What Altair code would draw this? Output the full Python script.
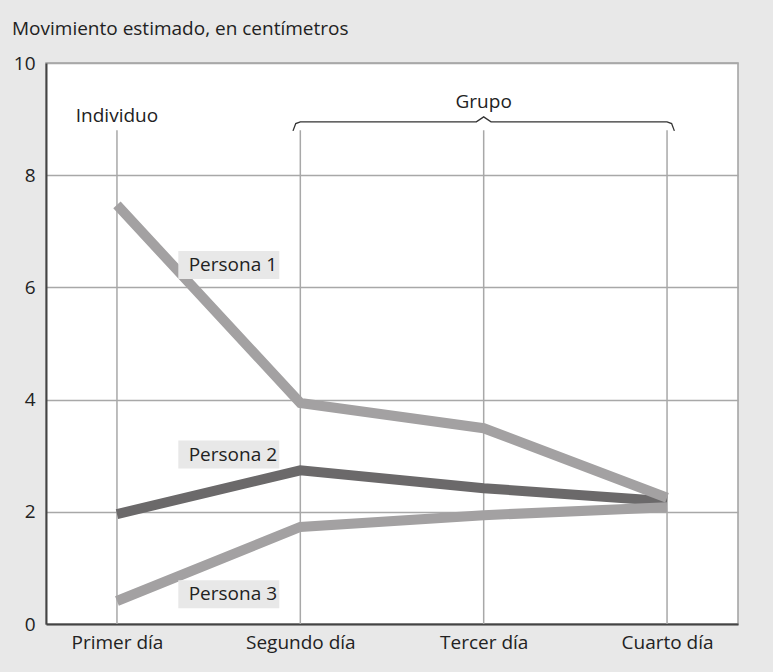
import json
import altair as alt
import pandas as pd

days = ["Primer día", "Segundo día", "Tercer día", "Cuarto día"]
persona1 = [7.47, 3.94, 3.49, 2.25]
persona2 = [1.96, 2.74, 2.42, 2.19]
persona3 = [0.41, 1.73, 1.94, 2.08]
series_names = ["Persona 1", "Persona 2", "Persona 3"]
label_x = [0.61, 0.61, 0.61]
label_y = [6.4, 3.02, 0.53]
y_ticks = [0, 2, 4, 6, 8, 10]
group_labels = ["Individuo", "Grupo"]
group_label_x = [0, 2]
group_label_y = [9.06, 9.31]
brace_x = [0.96, 0.975, 1.0, 1.96, 2.0, 2.04, 3.0, 3.025, 3.04]
brace_y = [8.79, 8.92, 8.95, 8.95, 9.04, 8.95, 8.95, 8.92, 8.79]
grid_top = 8.8

FONT = "Open Sans"
FS = 19
TXT = "#222222"
LIGHT = "#a3a1a2"
DARK = "#6b696a"
GRID = "#a8a8a8"

rows = []
for name, vals in zip(series_names, [persona1, persona2, persona3]):
    for i, (d, v) in enumerate(zip(days, vals)):
        rows.append({"i": i, "day": d, "value": v, "persona": name})
df = pd.DataFrame(rows)

labels_df = pd.DataFrame({"persona": series_names, "x": label_x, "y": label_y})
vgrid_df = pd.DataFrame({"i": list(range(len(days))), "y0": [0] * len(days), "y1": [grid_top] * len(days)})
group_df = pd.DataFrame({"t": group_labels, "x": group_label_x, "y": group_label_y})
brace_df = pd.DataFrame({"x": brace_x, "y": brace_y, "o": list(range(len(brace_x)))})

xscale = alt.Scale(domain=[-0.387, 3.387], nice=False, zero=False)
yscale = alt.Scale(domain=[0, 10], nice=False)

label_expr = json.dumps(days) + "[datum.value]"

xaxis = alt.Axis(values=[0, 1, 2, 3], labelExpr=label_expr, ticks=False, grid=False,
                 domainColor="#444444", domainWidth=2, labelFontSize=FS, labelFont=FONT,
                 labelColor=TXT, labelPadding=9, title=None)
yaxis = alt.Axis(values=y_ticks, format="d", ticks=False, grid=True, gridColor=GRID, gridWidth=1.5,
                 domainColor="#444444", domainWidth=2, labelFontSize=FS, labelFont=FONT,
                 labelColor=TXT, labelPadding=11, title=None)

base_axes = alt.Chart(df).mark_line(opacity=0).encode(
    x=alt.X("i:Q", scale=xscale, axis=xaxis),
    y=alt.Y("value:Q", scale=yscale, axis=yaxis),
)

vgrid = alt.Chart(vgrid_df).mark_rule(color=GRID, strokeWidth=1.5).encode(
    x=alt.X("i:Q", scale=xscale),
    y=alt.Y("y0:Q", scale=yscale),
    y2="y1:Q",
)

line_dark = alt.Chart(df[df.persona == "Persona 2"]).mark_line(
    color=DARK, strokeWidth=10, strokeCap="butt", strokeJoin="miter"
).encode(x=alt.X("i:Q", scale=xscale), y=alt.Y("value:Q", scale=yscale))

line_light = alt.Chart(df[df.persona != "Persona 2"]).mark_line(
    color=LIGHT, strokeWidth=10, strokeCap="butt", strokeJoin="miter"
).encode(x=alt.X("i:Q", scale=xscale), y=alt.Y("value:Q", scale=yscale),
         detail="persona:N")

boxes = alt.Chart(labels_df).mark_rect(color="#e8e8e8", width=101, height=28).encode(
    x=alt.X("x:Q", scale=xscale), y=alt.Y("y:Q", scale=yscale)
)
texts = alt.Chart(labels_df).mark_text(font=FONT, fontSize=FS, color=TXT, dx=4).encode(
    x=alt.X("x:Q", scale=xscale), y=alt.Y("y:Q", scale=yscale), text="persona:N"
)

group_text = alt.Chart(group_df).mark_text(font=FONT, fontSize=FS, color=TXT).encode(
    x=alt.X("x:Q", scale=xscale), y=alt.Y("y:Q", scale=yscale), text="t:N"
)
brace = alt.Chart(brace_df).mark_line(color="#333333", strokeWidth=1.3).encode(
    x=alt.X("x:Q", scale=xscale), y=alt.Y("y:Q", scale=yscale), order="o:Q"
)

chart = alt.layer(base_axes, vgrid, line_dark, line_light, boxes, texts, group_text, brace).properties(
    width=692, height=561,
    autosize=alt.AutoSizeParams(type="none"),
    padding={"left": 46, "top": 63, "right": 35, "bottom": 48},
    background="#e8e8e8",
    title=alt.Title("Movimiento estimado, en centímetros", anchor="start", frame="group",
                    dx=-34, offset=15, font=FONT, fontSize=FS, fontWeight="normal", color=TXT),
).configure_view(fill="white", stroke="#a0a0a0", strokeWidth=1.5)

chart.save("out.html", embed_options={"renderer": "svg", "actions": False})
